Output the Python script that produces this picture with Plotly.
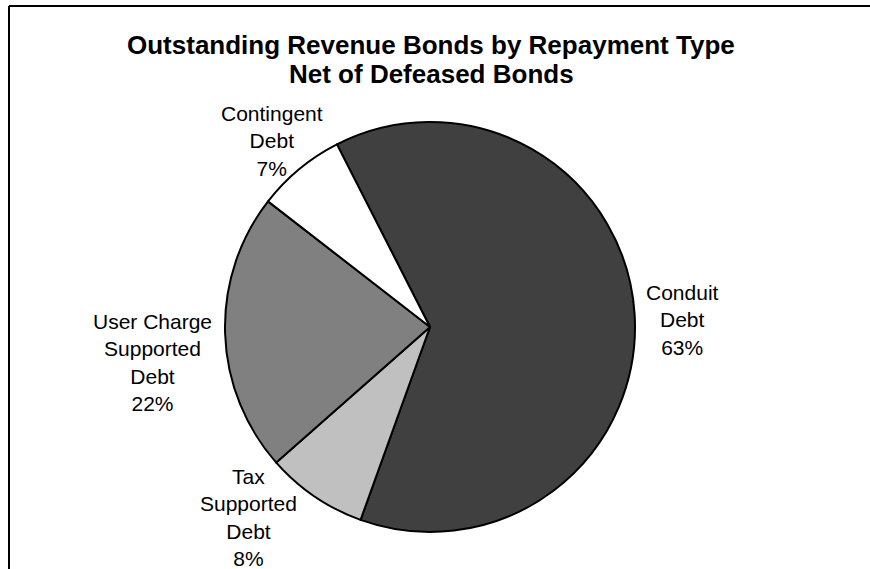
import plotly.graph_objects as go

# Repayment categories and their share of outstanding revenue bonds (%)
categories = ["Conduit Debt", "Tax Supported Debt", "User Charge Supported Debt", "Contingent Debt"]
label_lines = [["Conduit", "Debt"], ["Tax", "Supported", "Debt"], ["User Charge", "Supported", "Debt"], ["Contingent", "Debt"]]
shares = [63, 8, 22, 7]
slice_colors = ["#404040", "#c0c0c0", "#808080", "#ffffff"]

title_lines = ["Outstanding Revenue Bonds by Repayment Type", "Net of Defeased Bonds"]

W, H = 870, 569
FONT = "Liberation Sans, Arial, sans-serif"

# Where each category label block is centred (pixels from top-left)
label_centres = [(682, 320), (248, 517), (152, 362), (272, 141)]

fig = go.Figure(
    go.Pie(
        labels=categories,
        values=shares,
        sort=False,
        direction="clockwise",
        rotation=-27,
        marker=dict(colors=slice_colors, line=dict(color="#000000", width=2)),
        textinfo="none",
        showlegend=False,
        hoverinfo="label+percent",
        domain=dict(x=[225 / W, 635 / W], y=[(H - 532) / H, (H - 122) / H]),
    )
)

total = sum(shares)
annotations = []
for lines, share, (cx, cy) in zip(label_lines, shares, label_centres):
    pct = round(100 * share / total)
    annotations.append(
        dict(
            text="<br>".join(lines + [f"{pct}%"]),
            x=cx / W,
            y=1 - cy / H,
            xref="paper",
            yref="paper",
            xanchor="center",
            yanchor="middle",
            align="center",
            showarrow=False,
            font=dict(family=FONT, size=21, color="#000000"),
        )
    )

for i, line in enumerate(title_lines):
    annotations.append(
        dict(
            text=f"<b>{line}</b>",
            x=431 / W,
            y=1 - (45 + 29 * i) / H,
            xref="paper",
            yref="paper",
            xanchor="center",
            yanchor="middle",
            showarrow=False,
            font=dict(family=FONT, size=26, color="#000000"),
        )
    )

# Frame lines along the top and left edge of the chart area
shapes = [
    dict(type="line", xref="paper", yref="paper", x0=9 / W, x1=1.0, y0=1 - 6 / H, y1=1 - 6 / H,
         line=dict(color="#000000", width=2)),
    dict(type="line", xref="paper", yref="paper", x0=9 / W, x1=9 / W, y0=0, y1=1 - 6 / H,
         line=dict(color="#000000", width=2)),
]

fig.update_layout(
    width=W,
    height=H,
    margin=dict(l=0, r=0, t=0, b=0),
    paper_bgcolor="#ffffff",
    plot_bgcolor="#ffffff",
    annotations=annotations,
    shapes=shapes,
)

fig.write_html("out.html")
